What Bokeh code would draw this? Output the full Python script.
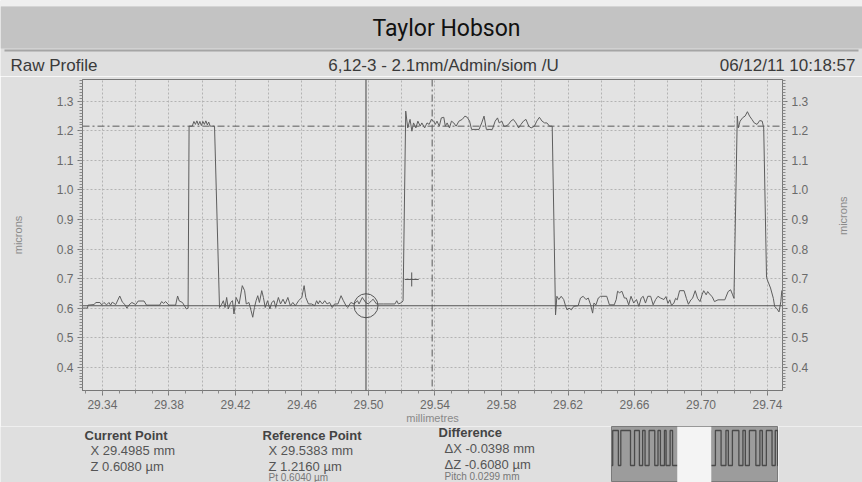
import math
import numpy as np
from bokeh.plotting import figure
from bokeh.models import (Range1d, LinearAxis, FixedTicker, PrintfTickFormatter,
                          Span, Label, BoxAnnotation, ColumnDataSource)
from bokeh.layouts import column, row
from bokeh.embed import file_html
from bokeh.resources import INLINE

# ---------------- data ----------------
title_text = "Taylor Hobson"
header_left = "Raw Profile"
header_mid = "6,12-3 - 2.1mm/Admin/siom /U"
header_right = "06/12/11 10:18:57"

x_ticks = [29.34, 29.38, 29.42, 29.46, 29.50, 29.54, 29.58, 29.62, 29.66, 29.70, 29.74]
y_ticks = [0.4, 0.5, 0.6, 0.7, 0.8, 0.9, 1.0, 1.1, 1.2, 1.3]
x_limits = [29.328, 29.749]
y_limits = [0.321, 1.374]

current_point = [29.4985, 0.6080]
reference_point = [29.5383, 1.2160]
difference = [-0.0398, -0.6080]
reference_pt = 0.6040
pitch = 0.0299
probe_cross = [29.526, 0.697]

profile_x = [
    29.3284, 29.3310, 29.3313, 29.3350, 29.3360, 29.3385, 29.3395, 29.3409, 29.3425, 29.3439,
    29.3449, 29.3459, 29.3480, 29.3504, 29.3520, 29.3535, 29.3547, 29.3560, 29.3577, 29.3600,
    29.3615, 29.3650, 29.3665, 29.3744, 29.3756, 29.3768, 29.3780, 29.3800, 29.3840, 29.3852,
    29.3862, 29.3881, 29.3905,
    29.3915, 29.3921, 29.3940, 29.3950, 29.3959, 29.3968, 29.3977, 29.3986, 29.3995, 29.4004,
    29.4013, 29.4022, 29.4031, 29.4039, 29.4048, 29.4074, 29.4104,
    29.4117, 29.4127, 29.4137, 29.4147, 29.4157, 29.4171, 29.4182, 29.4191, 29.4204, 29.4222,
    29.4241, 29.4255, 29.4265, 29.4281, 29.4294, 29.4304, 29.4314, 29.4324, 29.4334, 29.4344,
    29.4358, 29.4368, 29.4379, 29.4393, 29.4407, 29.4418, 29.4432, 29.4442, 29.4458, 29.4471,
    29.4486, 29.4499, 29.4515, 29.4530, 29.4545, 29.4560, 29.4580, 29.4599, 29.4613, 29.4623,
    29.4639, 29.4658, 29.4677, 29.4688, 29.4698, 29.4707, 29.4723, 29.4737, 29.4751, 29.4766,
    29.4782, 29.4796, 29.4816, 29.4835, 29.4849, 29.4865, 29.4875, 29.4894, 29.4914, 29.4934,
    29.4943, 29.4963, 29.4983, 29.4999, 29.5018, 29.5028, 29.5048, 29.5089, 29.5159, 29.5170,
    29.5180, 29.5200, 29.5208,
    29.5224, 29.5236, 29.5250, 29.5261, 29.5271, 29.5285, 29.5297, 29.5311, 29.5321, 29.5338,
    29.5352, 29.5365, 29.5378, 29.5392, 29.5402, 29.5412, 29.5426, 29.5438, 29.5453, 29.5462,
    29.5473, 29.5487, 29.5499, 29.5513, 29.5527, 29.5544, 29.5564, 29.5580, 29.5594, 29.5608,
    29.5620, 29.5665, 29.5681, 29.5695, 29.5709, 29.5745, 29.5762, 29.5776, 29.5786, 29.5802,
    29.5814, 29.5826, 29.5842, 29.5856, 29.5871, 29.5887, 29.5903, 29.5917, 29.5932, 29.5947,
    29.5964, 29.5978, 29.5998, 29.6012, 29.6028, 29.6044, 29.6059, 29.6073, 29.6089, 29.6105,
    29.6125, 29.6133, 29.6145, 29.6159, 29.6174, 29.6186, 29.6194, 29.6206, 29.6220, 29.6235,
    29.6261, 29.6275, 29.6291, 29.6308, 29.6322, 29.6336, 29.6348, 29.6356, 29.6368, 29.6382,
    29.6396, 29.6433, 29.6449, 29.6478, 29.6490, 29.6498, 29.6510, 29.6524, 29.6539, 29.6551,
    29.6565, 29.6579, 29.6595, 29.6612, 29.6626, 29.6640, 29.6652, 29.6666, 29.6680, 29.6697,
    29.6712, 29.6727, 29.6741, 29.6757, 29.6777, 29.6789, 29.6801, 29.6812, 29.6822, 29.6836,
    29.6847, 29.6857, 29.6871, 29.6898, 29.6912, 29.6924, 29.6939, 29.6949, 29.6965, 29.6979,
    29.6994, 29.7006, 29.7016, 29.7031, 29.7040, 29.7055, 29.7067, 29.7081, 29.7102, 29.7143,
    29.7163, 29.7178, 29.7190, 29.7198,
    29.7218, 29.7224, 29.7235, 29.7251, 29.7265, 29.7279, 29.7292, 29.7306, 29.7320, 29.7337,
    29.7353, 29.7368, 29.7377, 29.7394, 29.7402, 29.7418, 29.7435, 29.7443, 29.7455, 29.7469,
    29.7480, 29.7486,
]
profile_z = [
    0.600, 0.600, 0.610, 0.612, 0.619, 0.619, 0.611, 0.619, 0.611, 0.619,
    0.610, 0.620, 0.612, 0.641, 0.620, 0.612, 0.600, 0.611, 0.619, 0.612,
    0.624, 0.624, 0.610, 0.610, 0.622, 0.616, 0.622, 0.610, 0.610, 0.641,
    0.624, 0.619, 0.597,
    0.600, 1.216, 1.216, 1.232, 1.222, 1.234, 1.220, 1.232, 1.218, 1.232,
    1.222, 1.234, 1.220, 1.230, 1.216, 1.216, 0.602,
    0.613, 0.625, 0.602, 0.636, 0.597, 0.619, 0.625, 0.580, 0.636, 0.614,
    0.676, 0.659, 0.614, 0.619, 0.591, 0.569, 0.602, 0.625, 0.642, 0.619,
    0.659, 0.636, 0.602, 0.625, 0.597, 0.619, 0.625, 0.602, 0.636, 0.614,
    0.630, 0.614, 0.636, 0.608, 0.619, 0.608, 0.625, 0.636, 0.676, 0.636,
    0.614, 0.614, 0.608, 0.625, 0.614, 0.625, 0.614, 0.625, 0.614, 0.619,
    0.602, 0.614, 0.614, 0.642, 0.625, 0.608, 0.602, 0.619, 0.614, 0.625,
    0.614, 0.636, 0.619, 0.614, 0.625, 0.630, 0.614, 0.614, 0.614, 0.625,
    0.614, 0.619, 0.625,
    1.267, 1.210, 1.239, 1.199, 1.227, 1.210, 1.233, 1.216, 1.227, 1.210,
    1.227, 1.222, 1.239, 1.233, 1.222, 1.233, 1.216, 1.244, 1.246, 1.216,
    1.227, 1.210, 1.233, 1.227, 1.216, 1.233, 1.239, 1.250, 1.246, 1.233,
    1.205, 1.205, 1.227, 1.250, 1.205, 1.205, 1.233, 1.244, 1.227, 1.233,
    1.216, 1.216, 1.222, 1.233, 1.239, 1.227, 1.210, 1.222, 1.233, 1.239,
    1.216, 1.210, 1.216, 1.233, 1.246, 1.233, 1.227, 1.227, 1.216, 1.216,
    0.577, 0.640, 0.629, 0.640, 0.629, 0.606, 0.594, 0.600, 0.594, 0.606,
    0.608, 0.634, 0.640, 0.629, 0.634, 0.611, 0.583, 0.617, 0.611, 0.634,
    0.640, 0.640, 0.611, 0.611, 0.629, 0.657, 0.652, 0.657, 0.634, 0.634,
    0.611, 0.640, 0.617, 0.629, 0.606, 0.634, 0.640, 0.617, 0.640, 0.640,
    0.611, 0.629, 0.640, 0.634, 0.629, 0.639, 0.616, 0.628, 0.610, 0.616,
    0.633, 0.628, 0.659, 0.659, 0.633, 0.613, 0.628, 0.633, 0.659, 0.633,
    0.622, 0.645, 0.659, 0.645, 0.656, 0.645, 0.639, 0.622, 0.628, 0.628,
    0.656, 0.662, 0.645, 0.633,
    1.250, 1.210, 1.233, 1.245, 1.250, 1.265, 1.250, 1.239, 1.227, 1.222,
    1.235, 1.233, 1.210, 0.703, 0.691, 0.668, 0.633, 0.605, 0.599, 0.587,
    0.622, 0.660,
]

# thumbnail (overview trace): step edges (rise, fall) in mm
thumb_limits = [28.515, 30.58]
thumb_pulses = [
    (28.53, 28.60), (28.63, 28.75), (28.80, 28.86), (28.90, 28.93), (28.98, 29.05),
    (29.09, 29.12), (29.17, 29.19), (29.24, 29.27), (29.391, 29.409), (29.521, 29.611),
    (29.720, 29.740), (29.80, 29.87), (29.93, 29.96), (30.01, 30.09), (30.14, 30.17),
    (30.22, 30.30), (30.35, 30.38), (30.43, 30.50), (30.54, 30.57),
]
thumb_low, thumb_high = 0.61, 1.22

FONT = "Liberation Sans"
PANEL = "#dfdfdf"
TXT = "#3a3a3a"


def canvas(w, h, bg):
    f = figure(width=w, height=h, x_range=Range1d(0, w), y_range=Range1d(h, 0),
               output_backend="svg", toolbar_location=None, min_border=0,
               x_axis_type=None, y_axis_type=None)
    f.outline_line_color = None
    f.background_fill_color = bg
    f.border_fill_color = bg
    return f


# ---------------- header ----------------
HDR_H = 76
hdr = canvas(862, HDR_H, PANEL)
hdr.add_layout(BoxAnnotation(left=0, right=862, top=0, bottom=6, fill_color="#efefef",
                             fill_alpha=1, line_color=None))
hdr.add_layout(BoxAnnotation(left=0, right=862, top=6, bottom=48, fill_color="#c3c3c3",
                             fill_alpha=1, line_color=None))
hdr.add_layout(BoxAnnotation(left=4, right=858, top=49, bottom=51, fill_color="#8c8c8c",
                             fill_alpha=0.7, line_color=None))
hdr.add_layout(Label(x=446, y=28, text=title_text, text_align="center", text_baseline="middle",
                     text_font="Roboto", text_font_size="23px", text_color="#111111"))
hdr.add_layout(Label(x=10, y=65, text=header_left, text_align="left", text_baseline="middle",
                     text_font=FONT, text_font_size="17px", text_color=TXT))
hdr.add_layout(Label(x=443, y=65, text=header_mid, text_align="center", text_baseline="middle",
                     text_font=FONT, text_font_size="17px", text_color=TXT))
hdr.add_layout(Label(x=855, y=65, text=header_right, text_align="right", text_baseline="middle",
                     text_font=FONT, text_font_size="17px", text_color=TXT))

# ---------------- chart ----------------
p = figure(width=862, height=350, x_range=Range1d(*x_limits), y_range=Range1d(*y_limits),
           output_backend="svg", toolbar_location=None,
           min_border_left=82, min_border_right=80, min_border_top=3, min_border_bottom=36,
           x_axis_label="millimetres", y_axis_label="microns")
p.background_fill_color = "#e3e3e3"
p.border_fill_color = PANEL
p.outline_line_color = "#777777"

x_minor = [round(v, 3) for v in np.arange(29.33, 29.7501, 0.01)]
y_minor = [round(v, 3) for v in np.arange(0.33, 1.3701, 0.01)]
x_grid = [round(v, 3) for v in np.arange(29.34, 29.7401, 0.02)]

p.xaxis.ticker = FixedTicker(ticks=x_ticks, minor_ticks=x_minor)
p.xaxis.formatter = PrintfTickFormatter(format="%.2f")
p.yaxis.ticker = FixedTicker(ticks=y_ticks, minor_ticks=y_minor)
p.yaxis.formatter = PrintfTickFormatter(format="%.1f")

raxis = LinearAxis(ticker=FixedTicker(ticks=y_ticks, minor_ticks=y_minor),
                   formatter=PrintfTickFormatter(format="%.1f"), axis_label="microns")
p.add_layout(raxis, "right")

for ax in p.axis:
    ax.axis_line_color = "#777777"
    ax.major_tick_line_color = "#777777"
    ax.minor_tick_line_color = "#8a8a8a"
    ax.major_tick_in = 0
    ax.major_tick_out = 5
    ax.minor_tick_in = 0
    ax.minor_tick_out = 3
    ax.major_label_text_font = FONT
    ax.major_label_text_font_size = "12px"
    ax.major_label_text_color = "#6a6a6a"
    ax.major_label_standoff = 4
    ax.axis_label_text_font = FONT
    ax.axis_label_text_font_size = "11px"
    ax.axis_label_text_font_style = "normal"
    ax.axis_label_text_color = "#8a8a8a"
p.xaxis.axis_label_standoff = 0
p.yaxis.axis_label_standoff = 30
raxis.axis_label_standoff = 32
raxis.axis_label_orientation = math.pi / 2

p.xgrid.ticker = FixedTicker(ticks=x_grid)
p.ygrid.ticker = FixedTicker(ticks=y_ticks)
for g in (p.xgrid, p.ygrid):
    g.grid_line_color = "#b3b3b3"
    g.grid_line_dash = "2 2"
    g.grid_line_width = 1

# reference cursor (dash-dot) and current cursor (solid)
p.add_layout(Span(location=reference_point[1], dimension="width", line_color="#5a5a5a",
                  line_dash="7 3 2 3", line_width=1))
p.add_layout(Span(location=reference_point[0], dimension="height", line_color="#5a5a5a",
                  line_dash="7 3 2 3", line_width=1))
p.add_layout(Span(location=current_point[1], dimension="width", line_color="#555555", line_width=1))
p.add_layout(Span(location=current_point[0], dimension="height", line_color="#444444", line_width=1))

src = ColumnDataSource(dict(x=profile_x, z=profile_z))
p.line("x", "z", source=src, line_color="#5e5e5e", line_width=1)

p.scatter([current_point[0]], [current_point[1]], marker="circle", size=24,
          fill_color=None, line_color="#555555", line_width=1)
p.scatter([probe_cross[0]], [probe_cross[1]], marker="cross", size=14,
          line_color="#555555", line_width=1)

# ---------------- bottom readouts ----------------
info = canvas(611, 56, PANEL)


def put(f, x, y, t, bold=False, size="13px", color="#555555"):
    f.add_layout(Label(x=x, y=y, text=t, text_align="left", text_baseline="middle",
                       text_font=FONT, text_font_size=size,
                       text_font_style="bold" if bold else "normal", text_color=color))


put(info, 84, 9, "Current Point", bold=True, color="#444444")
put(info, 90, 24, "X  %.4f mm" % current_point[0])
put(info, 90, 40, "Z  %.4f µm" % current_point[1])
put(info, 262, 9, "Reference Point", bold=True, color="#444444")
put(info, 268, 24, "X  %.4f mm" % reference_point[0])
put(info, 268, 40, "Z  %.4f µm" % reference_point[1])
put(info, 268, 51, "Pt  %.4f µm" % reference_pt, size="10px", color="#777777")
put(info, 438, 6, "Difference", bold=True, color="#444444")
put(info, 444, 22, "ΔX  %.4f mm" % difference[0])
put(info, 444, 38, "ΔZ  %.4f µm" % difference[1])
put(info, 444, 50, "Pitch  %.4f mm" % pitch, size="10px", color="#777777")

thumb = figure(width=167, height=56, x_range=Range1d(*thumb_limits), y_range=Range1d(0.314, 1.29),
               output_backend="svg", toolbar_location=None, min_border=0,
               x_axis_type=None, y_axis_type=None)
thumb.background_fill_color = "#9c9c9c"
thumb.border_fill_color = "#9c9c9c"
thumb.outline_line_color = "#7a7a7a"
thumb.add_layout(BoxAnnotation(left=x_limits[0], right=x_limits[1], fill_color="#f4f4f4",
                               fill_alpha=1, line_color=None))
tx, tz = [thumb_limits[0]], [thumb_low]
for a, b in thumb_pulses:
    tx += [a, a, b, b]
    tz += [thumb_low, thumb_high, thumb_high, thumb_low]
tx.append(thumb_limits[1]); tz.append(thumb_low)
thumb.line(tx, tz, line_color="#4a4a4a", line_width=1.3)

filler = canvas(84, 56, PANEL)

layout = column(row(hdr), row(p), row(info, thumb, filler, spacing=0), spacing=0)

open("out.html", "w").write(file_html(layout, INLINE))
